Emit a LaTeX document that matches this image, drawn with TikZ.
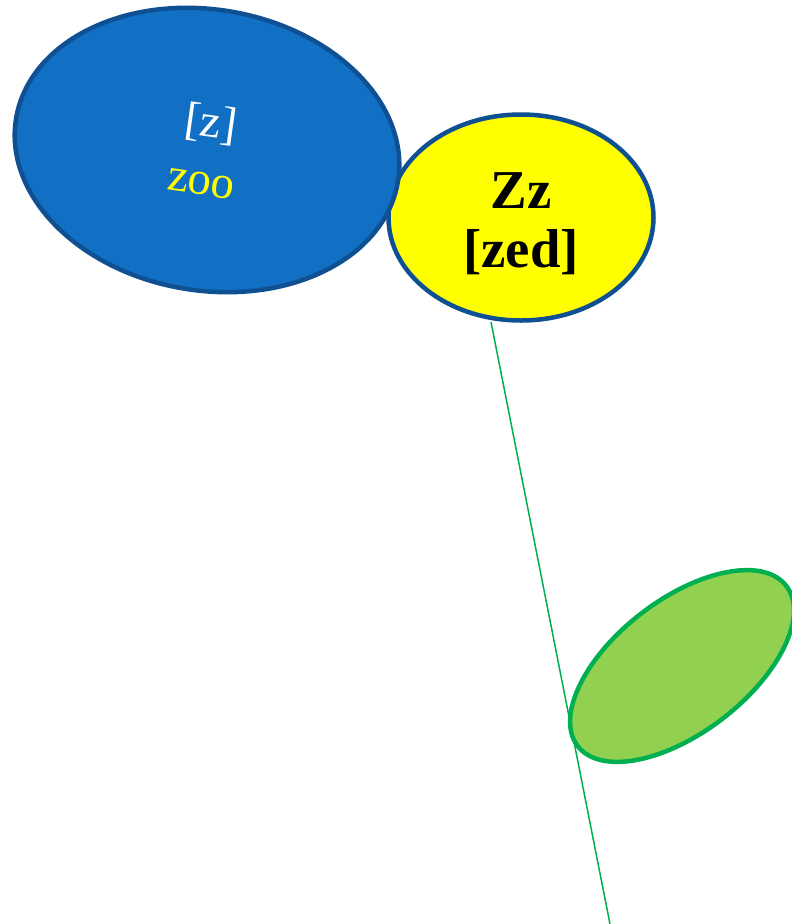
\documentclass[tikz,border=0pt]{standalone}
\usepackage{fontspec}
\setmainfont{Liberation Serif}
\usetikzlibrary{shapes.geometric}
\definecolor{bluefill}{HTML}{1170C4}
\definecolor{blueline}{HTML}{0E5091}
\definecolor{leaffill}{HTML}{92D050}
\definecolor{leafline}{HTML}{00B050}
\definecolor{sunfill}{HTML}{FFFF00}
\tikzset{
  blob/.style={ellipse, line width=4.5bp, inner sep=0pt, align=center},
  stemline/.style={draw=leafline, line width=1.5bp},
  moontext/.style={inner sep=0pt, rotate=-8, font=\fontsize{47}{52}\selectfont}
}
\begin{document}
\begin{tikzpicture}[x=1bp,y=-1bp]
\useasboundingbox (0,0) rectangle (792,924);
\fill[white] (0,0) rectangle (792,924);
\coordinate (stemtop) at (491,322);
\coordinate (stemend) at (610,924);
\draw[stemline] (stemtop) -- (stemend);
\node[blob, draw=blueline, fill=sunfill, minimum width=265bp, minimum height=206bp] (sun) at (521,217.5) {};
\node[align=center, font=\bfseries\fontsize{55}{59}\selectfont] (suntext) at (521,224) {Zz\\{[zed]}};
\node[blob, draw=blueline, fill=bluefill, minimum width=387bp, minimum height=281bp,
  rotate=-9.4] (moon) at (207,150) {};
\node[moontext, text=white] (ipa) at (211,124) {[z]};
\node[moontext, text=sunfill] (zoo) at (201,184) {zoo};
\node[blob, draw=leafline, fill=leaffill, minimum width=263bp, minimum height=133bp,
  rotate=37.5] (leaf) at (682,666) {};
\end{tikzpicture}
\end{document}
